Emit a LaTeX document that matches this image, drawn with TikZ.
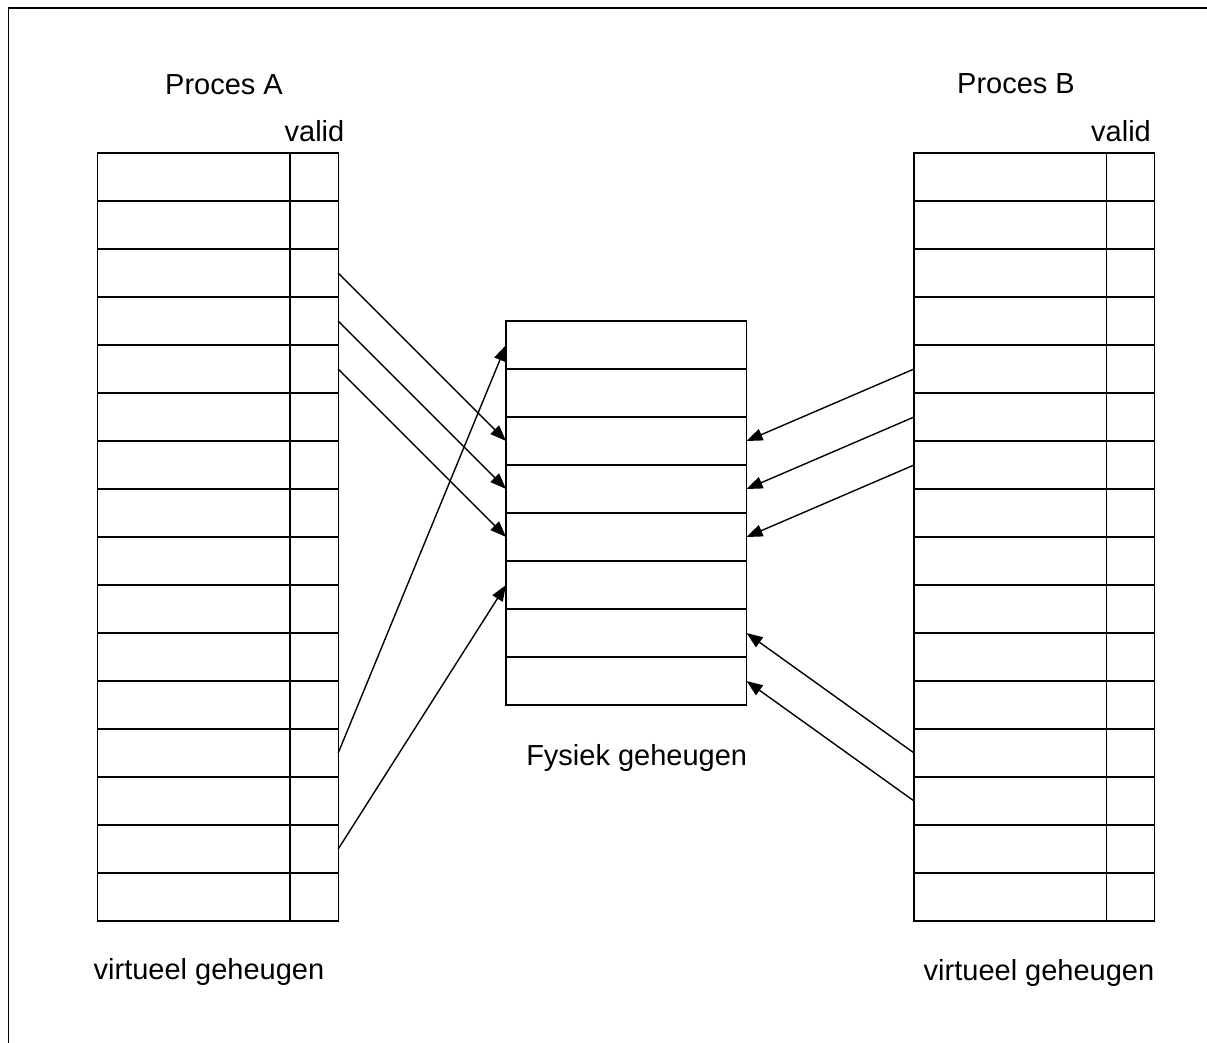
\documentclass[tikz,border=0pt]{standalone}
\usepackage{fontspec}
\setmainfont{Liberation Sans}
\usetikzlibrary{arrows.meta}
\begin{document}
\begin{tikzpicture}[x=1pt,y=-1pt,
  cell/.style={draw, line width=1.4pt, rectangle, inner sep=0pt, outer sep=0pt, minimum height=48pt},
  pagecell/.style={cell, minimum width=192.3pt},
  validcell/.style={cell, minimum width=48pt},
  framecell/.style={cell, minimum width=240.5pt},
  lbl/.style={inner sep=0pt, anchor=base, font=\fontsize{29}{34}\selectfont},
  map/.style={-{Triangle[length=16pt,width=12pt]}, line width=1.4pt}]
\useasboundingbox (0,0) rectangle (1207,1042);
% outer frame (only top and left edges fall on the page)
\draw[line width=1.6pt] (1215,8) -- (8.5,8) -- (8.5,1050);

% page tables of both processes
\foreach \i in {1,...,16} {
  \node[pagecell]  (A\i)  at (193.9,{153+48*\i-24}) {};
  \node[validcell] (Av\i) at (314.2,{153+48*\i-24}) {};
  \node[pagecell]  (B\i)  at (1010.2,{153+48*\i-24}) {};
  \node[validcell] (Bv\i) at (1130.3,{153+48*\i-24}) {};
}
% physical memory frames
\foreach \j in {1,...,8} {
  \node[framecell] (M\j) at (626.3,{321+48*\j-24}) {};
}

% mappings of process A
\draw[map] (Av3.east)  -- (M3.west);
\draw[map] (Av4.east)  -- (M4.west);
\draw[map] (Av5.east)  -- (M5.west);
\draw[map] (Av13.east) -- (M1.west);
\draw[map] (Av15.east) -- (M6.west);

% mappings of process B
\draw[map] (B5.west)  -- (M3.east);
\draw[map] (B6.west)  -- (M4.east);
\draw[map] (B7.west)  -- (M5.east);
\draw[map] (B13.west) -- (M7.east);
\draw[map] (B14.west) -- (M8.east);

% labels
\node[lbl] (procA)  at (224,94)      {Proces A};
\node[lbl] (validA) at (314.5,141.7) {valid};
\node[lbl] (procB)  at (1016,93.5)   {Proces B};
\node[lbl] (validB) at (1121,141.7)  {valid};
\node[lbl] (fys)    at (636.7,765)   {Fysiek geheugen};
\node[lbl] (virtA)  at (209,979)     {virtueel geheugen};
\node[lbl] (virtB)  at (1039,980)    {virtueel geheugen};
\end{tikzpicture}
\end{document}
